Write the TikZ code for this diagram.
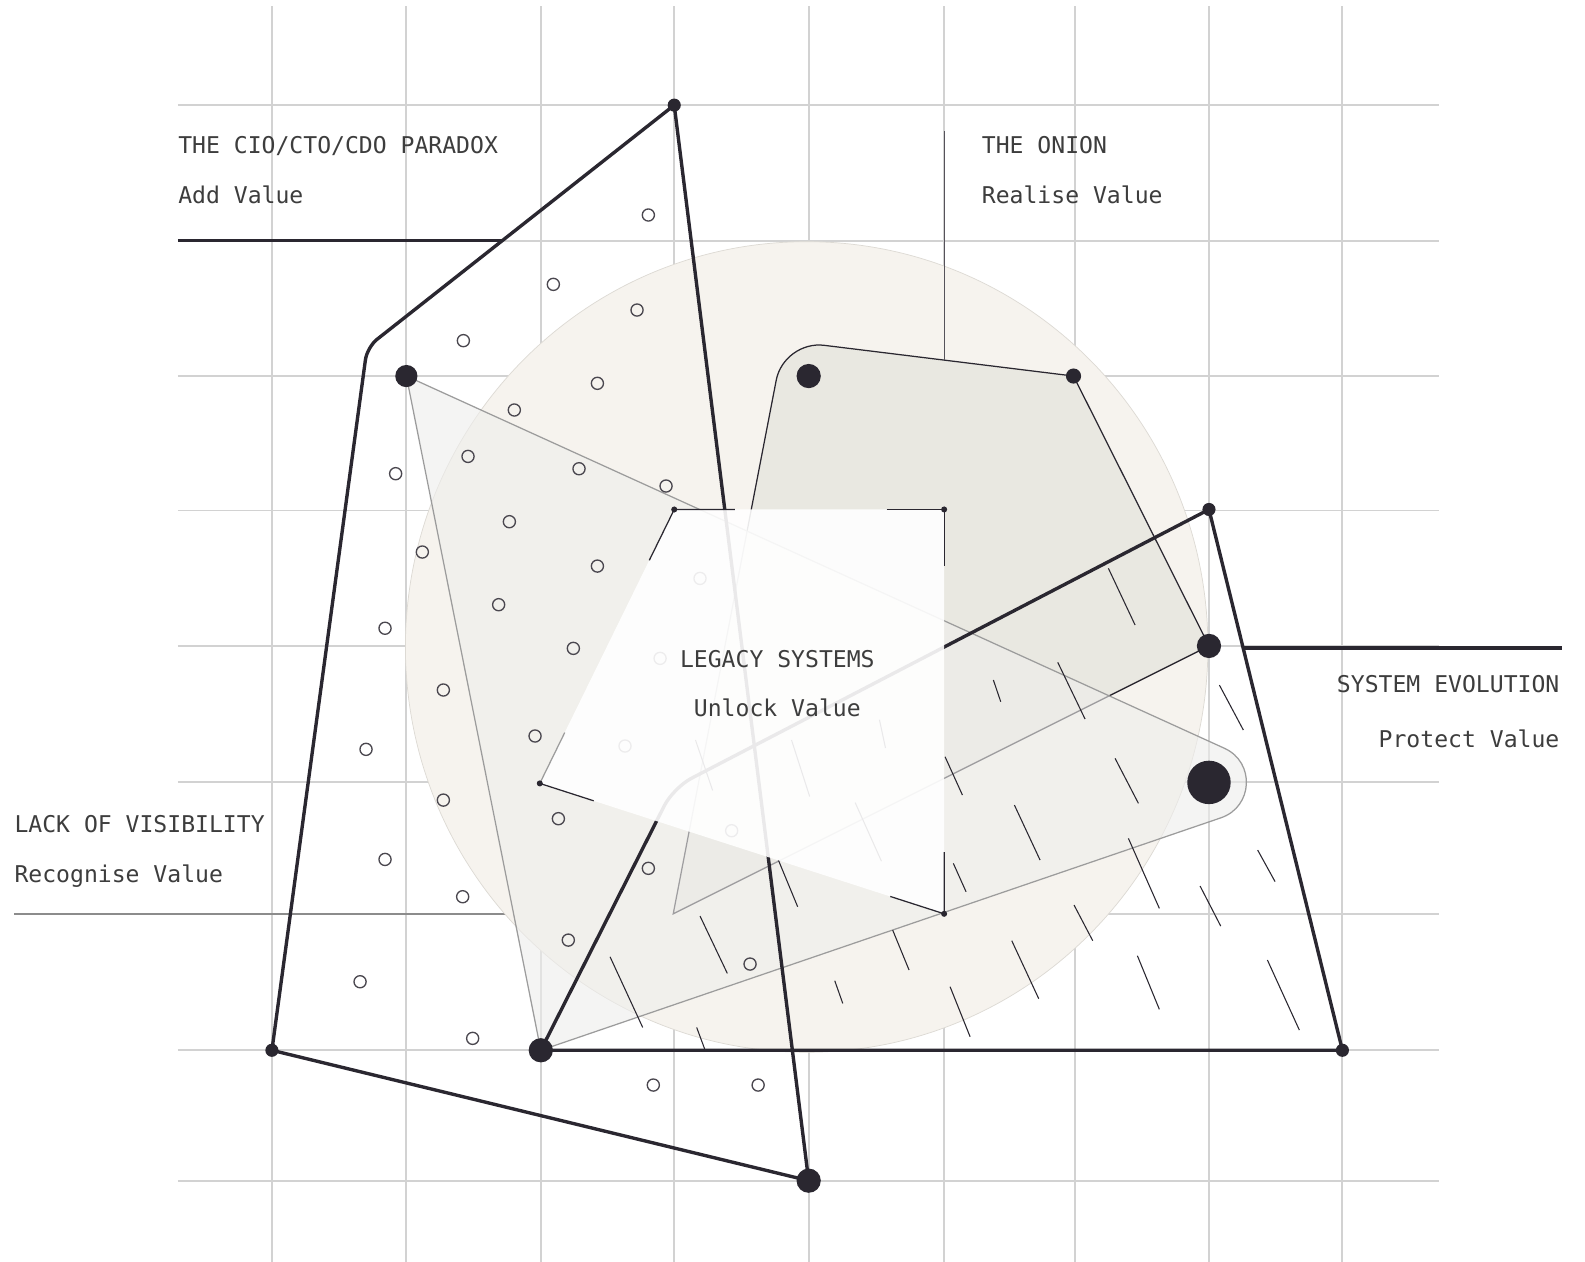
\documentclass[tikz,border=0pt]{standalone}
\usepackage{fontspec}
\setmonofont{DejaVu Sans Mono}
\usetikzlibrary{calc}
\definecolor{ink}{HTML}{2A2730}
\definecolor{gridgray}{HTML}{D2D2D2}
\definecolor{rulegray}{HTML}{8C8C8C}
\definecolor{sand}{HTML}{F6F3EE}
\definecolor{rimgray}{HTML}{DDDAD4}
\definecolor{onionfill}{HTML}{E9E8E1}
\definecolor{lackfill}{HTML}{EEEEEC}
\definecolor{lackline}{HTML}{9C9C9C}
\definecolor{textgray}{HTML}{3D3D3D}
\begin{document}
\begin{tikzpicture}[x=0.02cm, y=-0.02cm,
    gridline/.style={draw=gridgray, line width=1.1pt},
    heavy/.style={draw=ink, line width=1.9pt, line join=round},
    fine/.style={draw=ink, line width=0.7pt},
    ring/.style={draw=ink!85, line width=0.75pt},
    hatchline/.style={draw=ink, line width=0.6pt},
    blob/.style={circle, fill=ink, inner sep=0pt, minimum size=0.04cm*#1},
    txt/.style={font=\ttfamily\fontsize{13}{15}\selectfont, text=textgray, inner sep=0pt}]
    \fill[white] (0,0) rectangle (1568,1248);
    \useasboundingbox (0,0) rectangle (1568,1248);
    % grid
    \foreach \gx in {269,402,535,667,800,934,1063,1196,1328}
        \draw[gridline] (\gx,6) -- (\gx,1248);
    \foreach \gy in {104,238,372,505,639,774,904,1039,1168}
        \draw[gridline] (176,\gy) -- (1424,\gy);
    \coordinate (lackRule) at (14,904);
    \coordinate (lackRuleEnd) at (500,904);
    \draw[rulegray, line width=1.1pt] (lackRule) -- (lackRuleEnd);
    % vertices
    \coordinate (cioTop) at (667,104);
    \coordinate (cioBend) at (363.2,343.4);
    \coordinate (cioLeft) at (269,1039);
    \coordinate (cioBottom) at (800,1168);
    \coordinate (lackTop) at (402,372);
    \coordinate (lackTip) at (1196,774);
    \coordinate (lackFoot) at (535,1039);
    \coordinate (onionBend) at (775.5,336.7);
    \coordinate (onionEye) at (800,372);
    \coordinate (onionTop) at (1062,372);
    \coordinate (onionRight) at (1196,639);
    \coordinate (onionFoot) at (666,904);
    \coordinate (evoBend) at (666.2,779.2);
    \coordinate (evoTop) at (1196,504);
    \coordinate (evoRight) at (1328,1039);
    \coordinate (lgTL) at (667,504);
    \coordinate (lgTR) at (934,504);
    \coordinate (lgBR) at (934,904);
    \coordinate (lgBL) at (534,775);
    % ends of the rounded corners
    \coordinate (onionIn) at ($(onionBend)!0.8cm!(onionFoot)$);
    \coordinate (onionOut) at ($(onionBend)!0.8cm!(onionTop)$);
    \coordinate (cioIn) at ($(cioBend)!0.25cm!(cioTop)$);
    \coordinate (cioOut) at ($(cioBend)!0.25cm!(cioLeft)$);
    \coordinate (evoIn) at ($(evoBend)!0.4cm!(lackFoot)$);
    \coordinate (evoOut) at ($(evoBend)!0.4cm!(evoTop)$);
    % big disc
    \fill[sand, draw=rimgray, line width=0.4pt] (798,640) circle[x radius=7.94cm, y radius=8.02cm];
    % the onion
    \path[fill=onionfill, fine] (onionFoot) -- (onionIn) .. controls ($(onionIn)!0.55!(onionBend)$) and ($(onionOut)!0.55!(onionBend)$) .. (onionOut) -- (onionTop) -- (onionRight) -- cycle;
    \coordinate (onionRule) at (934,130);
    \coordinate (onionRuleEnd) at (934,356);
    \draw[ink!80, line width=0.7pt] (onionRule) -- (onionRuleEnd);
    % lack of visibility
    \path[fill=lackfill, fill opacity=0.6, draw=lackline, line width=0.7pt] (lackTop) -- (1211.4,740.3) .. controls (1241.9,754.2) and (1239.6,798.2) .. (1207.9,809) -- (lackFoot) -- cycle;
    % rings and hatching
    \foreach \cx/\cy in {641.4/212.7, 547.4/281.3, 630.2/306.7, 458.4/337, 591/379.2, 508.8/405.6, 463/451.5, 391.4/468.6, 572.8/463.7, 658.9/480.8, 503.9/516.1, 417.8/546.1, 591/560, 493.3/598.2, 692.5/572.2, 380.9/621.5, 567.2/641.4, 653/651.3, 438.6/682.6, 362.1/741.3, 529.3/728.1, 618.3/738, 438.6/791.5, 552.4/809.9, 723.8/821.8, 380.9/850.2, 457.7/887.1, 641.4/859, 562.2/930, 742/953.7, 356.2/971.2, 467.6/1027.2, 646.3/1073.4, 750/1073.4}
        \draw[ring] (\cx,\cy) circle[radius=0.12cm];
    \foreach \ax/\ay/\bx/\by in {1096.5/562.2/1122.9/618.3, 982.7/672.7/990/694.2, 1046.4/655.2/1073.4/711.3, 1206.3/677.7/1230/722.2, 934.9/748.6/952.1/786.5, 1103.1/750.2/1126.2/794.7, 1003.5/796.4/1028.9/850.8, 943.1/854.1/955.7/882.2, 1116.3/829.4/1146.9/898.6, 1244.2/841/1261.4/872.2, 1187.2/876.5/1207.6/916.1, 1062.5/895.3/1081/930.6, 1000.9/930.6/1027.6/988, 1125.2/945.5/1146.9/998.5, 1253.8/949.7/1285.4/1019, 939.9/976.1/959.7/1025.6, 770/850.8/789.1/897, 692.5/906.2/719.5/962.9, 603.5/946.5/635.8/1016.4, 883.1/920.1/899.3/959.6, 825.8/970.2/833.7/992.6, 689.2/1016.4/697.5/1038.8, 688/732/705/782, 783/732/801/788, 846/794/872/852, 870/712/876/740}
        \draw[hatchline] (\ax,\ay) -- (\bx,\by);
    % heavy outlines
    \draw[heavy] (cioTop) -- (cioIn) .. controls ($(cioIn)!0.55!(cioBend)$) and ($(cioOut)!0.55!(cioBend)$) .. (cioOut) -- (cioLeft) -- (cioBottom) -- cycle;
    \draw[heavy] (lackFoot) -- (evoIn) .. controls ($(evoIn)!0.55!(evoBend)$) and ($(evoOut)!0.55!(evoBend)$) .. (evoOut) -- (evoTop) -- (evoRight) -- cycle;
    \coordinate (cioRule) at (176,238);
    \coordinate (cioRuleEnd) at (497,238);
    \coordinate (evoRule) at (1230,641);
    \coordinate (evoRuleEnd) at (1545,641);
    \draw[heavy] (cioRule) -- (cioRuleEnd);
    \draw[heavy] (evoRule) -- (evoRuleEnd);
    % legacy systems veil
    \fill[white, fill opacity=0.9] (lgTL) -- (lgTR) -- (lgBR) -- (lgBL) -- cycle;
    \draw[fine] ($(lgTL)!1.2cm!(lgTR)$) -- (lgTL) -- ($(lgTL)!1.12cm!(lgBL)$);
    \draw[fine] ($(lgTR)!1.14cm!(lgTL)$) -- (lgTR) -- ($(lgTR)!1.12cm!(lgBR)$);
    \draw[fine] ($(lgBR)!1.22cm!(lgTR)$) -- (lgBR) -- ($(lgBR)!1.12cm!(lgBL)$);
    \draw[fine] ($(lgBL)!1.12cm!(lgBR)$) -- (lgBL);
    \draw[lackline, line width=0.7pt] (lgBL) -- ($(lgBL)!1.12cm!(lgTL)$);
    % dots
    \node[blob=6.5] (cioTopDot) at (cioTop) {};
    \node[blob=6.5] (cioLeftDot) at (cioLeft) {};
    \node[blob=12] (cioBottomDot) at (cioBottom) {};
    \node[blob=11] (lackTopDot) at (lackTop) {};
    \node[blob=12] (lackFootDot) at (lackFoot) {};
    \node[blob=21.5] (lackTipDot) at (lackTip) {};
    \node[blob=12] (onionEyeDot) at (onionEye) {};
    \node[blob=7.5] (onionTopDot) at (onionTop) {};
    \node[blob=12] (onionRightDot) at (onionRight) {};
    \node[blob=6.5] (evoTopDot) at (evoTop) {};
    \node[blob=6.5] (evoRightDot) at (evoRight) {};
    \foreach \c in {lgTL,lgTR,lgBR,lgBL}
        \node[blob=3] (\c Dot) at (\c) {};
    % captions
    \node[txt, anchor=base west] (cioTitle) at (176,152) {THE CIO/CTO/CDO PARADOX};
    \node[txt, anchor=base west] (cioValue) at (176,201) {Add Value};
    \node[txt, anchor=base west] (onionTitle) at (971,152) {THE ONION};
    \node[txt, anchor=base west] (onionValue) at (971,201) {Realise Value};
    \node[txt, anchor=base west] (lackTitle) at (14,824) {LACK OF VISIBILITY};
    \node[txt, anchor=base west] (lackValue) at (14,873) {Recognise Value};
    \node[txt, anchor=base east] (evoTitle) at (1543,685) {SYSTEM EVOLUTION};
    \node[txt, anchor=base east] (evoValue) at (1543,739) {Protect Value};
    \node[txt, anchor=base] (legacyTitle) at (769,660) {LEGACY SYSTEMS};
    \node[txt, anchor=base] (legacyValue) at (769,709) {Unlock Value};
\end{tikzpicture}
\end{document}
